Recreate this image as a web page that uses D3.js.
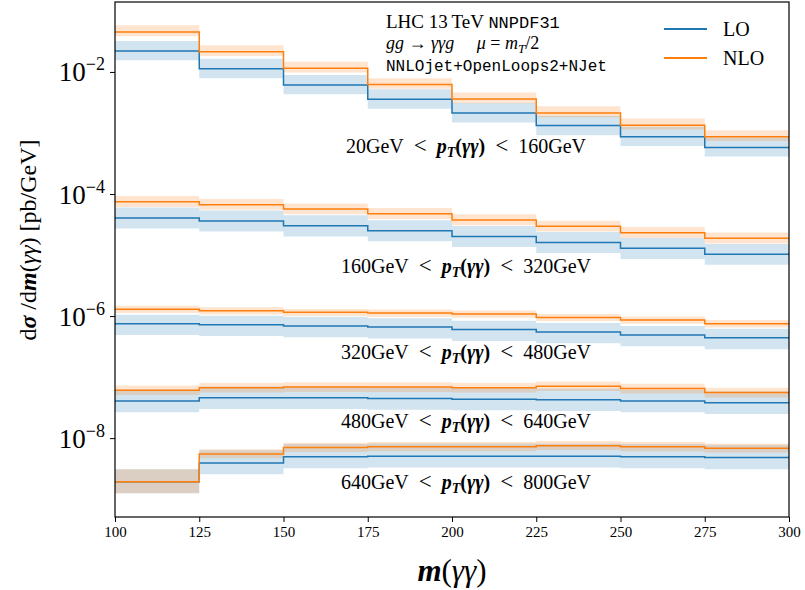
<!DOCTYPE html>
<html><head><meta charset="utf-8">
<script src="https://cdn.jsdelivr.net/npm/d3@7"></script>
<style>
html,body{margin:0;padding:0;background:#fff;}
svg{display:block;}
text{font-family:"Liberation Serif","DejaVu Serif",serif;fill:#000;}
.mono{font-family:"Liberation Mono","DejaVu Sans Mono",monospace;}
</style></head>
<body><svg id="chart" width="805" height="590"></svg>
<script>
// ---------------- data ----------------
const massEdges = [100, 125, 150, 175, 200, 225, 250, 275, 300];
const xTickLabels = ["100","125","150","175","200","225","250","275","300"];
const yTickValues = [1e-2, 1e-4, 1e-6, 1e-8];
const yTickExponents = ["−2","−4","−6","−8"];
const ptLow  = ["20","160","320","480","640"];
const ptHigh = ["160","320","480","640","800"];
const seriesNames = ["LO","NLO"];

// pT 20-160
const lo1    = [2.21e-2, 1.13e-2, 6.12e-3, 3.57e-3, 2.13e-3, 1.32e-3, 8.7e-4, 5.8e-4];
const lo1Dn  = [1.55e-2, 7.9e-3, 4.3e-3, 2.5e-3, 1.49e-3, 9.2e-4, 6.1e-4, 4.1e-4];
const lo1Up  = [3.2e-2, 1.64e-2, 8.9e-3, 5.2e-3, 3.1e-3, 1.91e-3, 1.26e-3, 8.4e-4];
const nlo1   = [4.53e-2, 2.15e-2, 1.15e-2, 6.2e-3, 3.6e-3, 2.13e-3, 1.34e-3, 8.7e-4];
const nlo1Dn = [3.85e-2, 1.83e-2, 9.8e-3, 5.3e-3, 3.06e-3, 1.81e-3, 1.14e-3, 7.4e-4];
const nlo1Up = [5.8e-2, 2.75e-2, 1.47e-2, 7.9e-3, 4.6e-3, 2.73e-3, 1.72e-3, 1.11e-3];
// pT 160-320
const lo2    = [4.05e-5, 3.61e-5, 3.02e-5, 2.51e-5, 2.02e-5, 1.61e-5, 1.29e-5, 1.03e-5];
const lo2Dn  = [2.71e-5, 2.42e-5, 2.02e-5, 1.68e-5, 1.35e-5, 1.08e-5, 8.6e-6, 6.9e-6];
const lo2Up  = [6.0e-5, 5.35e-5, 4.47e-5, 3.71e-5, 2.99e-5, 2.38e-5, 1.91e-5, 1.52e-5];
const nlo2   = [7.48e-5, 6.68e-5, 5.67e-5, 4.75e-5, 3.75e-5, 2.95e-5, 2.32e-5, 1.88e-5];
const nlo2Dn = [6.1e-5, 5.5e-5, 4.65e-5, 3.9e-5, 3.08e-5, 2.42e-5, 1.9e-5, 1.54e-5];
const nlo2Up = [9.3e-5, 8.3e-5, 7.0e-5, 5.9e-5, 4.65e-5, 3.66e-5, 2.88e-5, 2.33e-5];
// pT 320-480
const lo3    = [7.5e-7, 7.2e-7, 6.9e-7, 6.6e-7, 6.0e-7, 5.5e-7, 4.9e-7, 4.4e-7];
const lo3Dn  = [4.9e-7, 4.7e-7, 4.5e-7, 4.3e-7, 3.9e-7, 3.6e-7, 3.2e-7, 2.85e-7];
const lo3Up  = [1.05e-6, 1.01e-6, 9.7e-7, 9.2e-7, 8.4e-7, 7.7e-7, 6.9e-7, 6.2e-7];
const nlo3   = [1.29e-6, 1.22e-6, 1.15e-6, 1.12e-6, 1.08e-6, 9.5e-7, 8.6e-7, 7.5e-7];
const nlo3Dn = [1.12e-6, 1.06e-6, 1.0e-6, 9.7e-7, 9.4e-7, 8.3e-7, 7.5e-7, 6.5e-7];
const nlo3Up = [1.47e-6, 1.39e-6, 1.31e-6, 1.28e-6, 1.23e-6, 1.08e-6, 9.8e-7, 8.6e-7];
// pT 480-640
const lo4    = [4.05e-8, 4.58e-8, 4.58e-8, 4.47e-8, 4.35e-8, 4.24e-8, 4.05e-8, 3.79e-8];
const lo4Dn  = [2.65e-8, 3.0e-8, 3.0e-8, 2.92e-8, 2.85e-8, 2.77e-8, 2.65e-8, 2.48e-8];
const lo4Up  = [6.2e-8, 7.0e-8, 7.0e-8, 6.85e-8, 6.65e-8, 6.5e-8, 6.2e-8, 5.8e-8];
const nlo4   = [6.1e-8, 6.7e-8, 6.85e-8, 6.85e-8, 6.7e-8, 7.1e-8, 6.5e-8, 5.6e-8];
const nlo4Dn = [5.1e-8, 5.6e-8, 5.7e-8, 5.7e-8, 5.6e-8, 5.9e-8, 5.4e-8, 4.65e-8];
const nlo4Up = [7.3e-8, 8.0e-8, 8.2e-8, 8.2e-8, 8.0e-8, 8.5e-8, 7.8e-8, 6.7e-8];
// pT 640-800
const lo5    = [1.92e-9, 3.9e-9, 4.95e-9, 5.05e-9, 5.05e-9, 5.05e-9, 4.95e-9, 4.8e-9];
const lo5Dn  = [1.25e-9, 2.55e-9, 3.2e-9, 3.3e-9, 3.3e-9, 3.3e-9, 3.2e-9, 3.1e-9];
const lo5Up  = [3.1e-9, 6.3e-9, 8.0e-9, 8.2e-9, 8.2e-9, 8.2e-9, 8.0e-9, 7.8e-9];
const nlo5   = [1.92e-9, 5.5e-9, 7.0e-9, 7.2e-9, 7.2e-9, 7.5e-9, 7.2e-9, 6.85e-9];
const nlo5Dn = [1.25e-9, 4.7e-9, 5.95e-9, 6.1e-9, 6.1e-9, 6.4e-9, 6.1e-9, 5.8e-9];
const nlo5Up = [3.1e-9, 6.6e-9, 8.4e-9, 8.6e-9, 8.6e-9, 9.0e-9, 8.6e-9, 8.2e-9];

const loSets  = [[lo1,lo1Dn,lo1Up],[lo2,lo2Dn,lo2Up],[lo3,lo3Dn,lo3Up],[lo4,lo4Dn,lo4Up],[lo5,lo5Dn,lo5Up]];
const nloSets = [[nlo1,nlo1Dn,nlo1Up],[nlo2,nlo2Dn,nlo2Up],[nlo3,nlo3Dn,nlo3Up],[nlo4,nlo4Dn,nlo4Up],[nlo5,nlo5Dn,nlo5Up]];

// ---------------- layout ----------------
const L = 115, R = 789, T = 2, B = 517;
const colLO = "#1f77b4", colNLO = "#ff7f0e";
const svg = d3.select("#chart");
const x = d3.scaleLinear().domain([100, 300]).range([L, R]);
const y = d3.scaleLog().domain([5.1e-10, 0.14]).range([B, T]);

svg.append("clipPath").attr("id","clip").append("rect")
  .attr("x", L).attr("y", T).attr("width", R-L).attr("height", B-T);
const plot = svg.append("g").attr("clip-path","url(#clip)");

function pts(vals){
  const p = vals.map((v,i)=>[massEdges[i], v]);
  p.push([massEdges[massEdges.length-1], vals[vals.length-1]]);
  return p;
}
const line = d3.line().x(d=>x(d[0])).y(d=>y(d[1])).curve(d3.curveStepAfter);
const area = d3.area().x(d=>x(d[0])).y0(d=>y(d[1])).y1(d=>y(d[2])).curve(d3.curveStepAfter);
function bandPts(dn, up){
  const p = dn.map((v,i)=>[massEdges[i], v, up[i]]);
  p.push([massEdges[massEdges.length-1], dn[dn.length-1], up[up.length-1]]);
  return p;
}

loSets.forEach((s,k)=>{
  const n = nloSets[k];
  plot.append("path").attr("d", area(bandPts(s[1], s[2]))).attr("fill", colLO).attr("fill-opacity", 0.2);
  plot.append("path").attr("d", line(pts(s[0]))).attr("fill","none").attr("stroke", colLO).attr("stroke-width",1.5);
  plot.append("path").attr("d", area(bandPts(n[1], n[2]))).attr("fill", colNLO).attr("fill-opacity", 0.2);
  plot.append("path").attr("d", line(pts(n[0]))).attr("fill","none").attr("stroke", colNLO).attr("stroke-width",1.5);
});

// ---------------- axes ----------------
const xAxis = svg.append("g").attr("transform",`translate(0,${B})`)
  .call(d3.axisBottom(x).tickValues(massEdges).tickSize(5).tickSizeOuter(0)
        .tickFormat((d,i)=>xTickLabels[i]));
xAxis.select(".domain").remove();
xAxis.selectAll("line").attr("stroke","#000").attr("stroke-width",1);
xAxis.selectAll("text").attr("font-size",15).attr("dy",0).attr("y",20)
  .style("font-family",'"Liberation Serif",serif');

const yAxis = svg.append("g").attr("transform",`translate(${L},0)`)
  .call(d3.axisLeft(y).tickValues(yTickValues).tickSize(5).tickSizeOuter(0).tickFormat(""));
yAxis.select(".domain").remove();
yAxis.selectAll("line").attr("stroke","#000").attr("stroke-width",1);
yAxis.selectAll(".tick").each(function(d,i){
  const t = d3.select(this).append("text").attr("x",-10).attr("y",9)
    .attr("text-anchor","end").attr("font-size",27).style("fill","#000");
  t.append("tspan").text("10");
  t.append("tspan").attr("dy",-11).attr("font-size",18).text(yTickExponents[i]);
});

svg.append("rect").attr("x",L).attr("y",T).attr("width",R-L).attr("height",B-T)
  .attr("fill","none").attr("stroke","#000").attr("stroke-width",1.2);

// axis labels
const xl = svg.append("text").attr("x",(L+R)/2).attr("y",581).attr("text-anchor","middle").attr("font-size",31);
xl.append("tspan").attr("font-style","italic").attr("font-weight","bold").text("m");
xl.append("tspan").text("(");
xl.append("tspan").attr("font-style","italic").text("γγ");
xl.append("tspan").text(")");

const yl = svg.append("text").attr("transform",`translate(36,240) rotate(-90)`)
  .attr("text-anchor","middle").attr("font-size",24);
yl.append("tspan").text("d");
yl.append("tspan").attr("font-style","italic").attr("font-weight","bold").text("σ");
yl.append("tspan").text(" /d");
yl.append("tspan").attr("font-style","italic").attr("font-weight","bold").text("m");
yl.append("tspan").text("(");
yl.append("tspan").attr("font-style","italic").text("γγ");
yl.append("tspan").text(")  [pb/GeV]");

// ---------------- annotations ----------------
const t1 = svg.append("text").attr("x",386).attr("y",28).attr("font-size",19);
t1.append("tspan").text("LHC 13\u2009TeV ");
t1.append("tspan").attr("class","mono").attr("font-size",17).text("NNPDF31");

const t2 = svg.append("text").attr("x",386).attr("y",49).attr("font-size",18);
t2.append("tspan").attr("font-style","italic").text("gg");
t2.append("tspan").text(" → ");
t2.append("tspan").attr("font-style","italic").text("γγg");
t2.append("tspan").text("\u2003 ");
t2.append("tspan").attr("font-style","italic").text("μ");
t2.append("tspan").text(" = ");
t2.append("tspan").attr("font-style","italic").text("m");
t2.append("tspan").attr("font-style","italic").attr("font-size",13).attr("dy",4).text("T");
t2.append("tspan").attr("dy",-4).text("/2");

svg.append("text").attr("class","mono").attr("x",386).attr("y",71).attr("font-size",16)
  .text("NNLOjet+OpenLoops2+NJet");

// legend
seriesNames.forEach((name,i)=>{
  const yy = 29 + i*29;
  svg.append("line").attr("x1",664).attr("x2",707).attr("y1",yy).attr("y2",yy)
    .attr("stroke", i===0?colLO:colNLO).attr("stroke-width",2);
  svg.append("text").attr("x",723).attr("y",yy+7).attr("font-size",20).text(name);
});

// pT range labels
const labelY = [153, 273, 359, 428, 489];
ptLow.forEach((lo,i)=>{
  const t = svg.append("text").attr("x",466).attr("y",labelY[i]).attr("text-anchor","middle")
    .attr("font-size",20);
  t.append("tspan").text(lo+"GeV\u2002");
  t.append("tspan").attr("font-size",23).text("<");
  t.append("tspan").text("\u2002");
  t.append("tspan").attr("font-style","italic").attr("font-weight","bold").text("p");
  t.append("tspan").attr("font-style","italic").attr("font-weight","bold").attr("font-size",14).attr("dy",4).text("T");
  t.append("tspan").attr("font-weight","bold").attr("dy",-4).text("(");
  t.append("tspan").attr("font-style","italic").attr("font-weight","bold").text("γγ");
  t.append("tspan").attr("font-weight","bold").text(")");
  t.append("tspan").text("\u2002");
  t.append("tspan").attr("font-size",23).text("<");
  t.append("tspan").text("\u2002"+ptHigh[i]+"GeV");
});
</script></body></html>
